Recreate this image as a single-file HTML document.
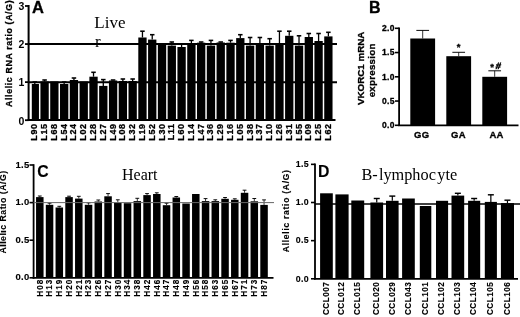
<!DOCTYPE html>
<html><head><meta charset="utf-8"><title>Figure</title>
<style>
html,body{margin:0;padding:0;background:#fff;}
body{width:520px;height:317px;overflow:hidden;}
svg{display:block;}
</style></head>
<body>
<svg width="520" height="317" viewBox="0 0 520 317" style="filter:grayscale(1)">
<rect x="0" y="0" width="520" height="317" fill="#fff"/>
<line x1="28.60" y1="5.00" x2="28.60" y2="121.00" stroke="#000" stroke-width="2"/>
<line x1="25.00" y1="5.99" x2="28.60" y2="5.99" stroke="#000" stroke-width="1.8"/>
<text x="24.40" y="10.29" font-family='"Liberation Sans", sans-serif' font-size="10.5" font-weight="bold" text-anchor="end" letter-spacing="0" stroke-width="0">3</text>
<line x1="25.00" y1="44.06" x2="28.60" y2="44.06" stroke="#000" stroke-width="1.8"/>
<text x="24.40" y="48.36" font-family='"Liberation Sans", sans-serif' font-size="10.5" font-weight="bold" text-anchor="end" letter-spacing="0" stroke-width="0">2</text>
<line x1="25.00" y1="82.13" x2="28.60" y2="82.13" stroke="#000" stroke-width="1.8"/>
<text x="24.40" y="86.43" font-family='"Liberation Sans", sans-serif' font-size="10.5" font-weight="bold" text-anchor="end" letter-spacing="0" stroke-width="0">1</text>
<line x1="25.00" y1="120.20" x2="28.60" y2="120.20" stroke="#000" stroke-width="1.8"/>
<text x="24.40" y="124.50" font-family='"Liberation Sans", sans-serif' font-size="10.5" font-weight="bold" text-anchor="end" letter-spacing="0" stroke-width="0">0</text>
<line x1="27.60" y1="120.00" x2="335.50" y2="120.00" stroke="#000" stroke-width="2"/>
<rect x="31.80" y="84.00" width="7.15" height="36.00" fill="#000"/>
<line x1="34.80" y1="84.00" x2="34.80" y2="82.00" stroke="#000" stroke-width="1.3"/>
<line x1="32.55" y1="82.00" x2="37.05" y2="82.00" stroke="#000" stroke-width="1.56"/>
<text stroke="#000" stroke-width="0.3" transform="translate(37.30,123.40) rotate(-90) scale(1.0,1)" font-family='"Liberation Sans", sans-serif' font-size="9" font-weight="bold" text-anchor="end" letter-spacing="0.6">L90</text>
<rect x="40.44" y="81.50" width="8.30" height="38.50" fill="#000"/>
<line x1="44.59" y1="81.50" x2="44.59" y2="80.00" stroke="#000" stroke-width="1.3"/>
<line x1="42.34" y1="80.00" x2="46.84" y2="80.00" stroke="#000" stroke-width="1.56"/>
<text stroke="#000" stroke-width="0.3" transform="translate(47.09,123.40) rotate(-90) scale(1.0,1)" font-family='"Liberation Sans", sans-serif' font-size="9" font-weight="bold" text-anchor="end" letter-spacing="0.6">L15</text>
<rect x="50.22" y="81.50" width="8.30" height="38.50" fill="#000"/>
<text stroke="#000" stroke-width="0.3" transform="translate(56.87,123.40) rotate(-90) scale(1.0,1)" font-family='"Liberation Sans", sans-serif' font-size="9" font-weight="bold" text-anchor="end" letter-spacing="0.6">L68</text>
<rect x="60.01" y="84.00" width="8.30" height="36.00" fill="#000"/>
<line x1="64.16" y1="84.00" x2="64.16" y2="82.00" stroke="#000" stroke-width="1.3"/>
<line x1="61.91" y1="82.00" x2="66.41" y2="82.00" stroke="#000" stroke-width="1.56"/>
<text stroke="#000" stroke-width="0.3" transform="translate(66.66,123.40) rotate(-90) scale(1.0,1)" font-family='"Liberation Sans", sans-serif' font-size="9" font-weight="bold" text-anchor="end" letter-spacing="0.6">L54</text>
<rect x="69.79" y="80.00" width="8.30" height="40.00" fill="#000"/>
<line x1="73.94" y1="80.00" x2="73.94" y2="78.00" stroke="#000" stroke-width="1.3"/>
<line x1="71.69" y1="78.00" x2="76.19" y2="78.00" stroke="#000" stroke-width="1.56"/>
<text stroke="#000" stroke-width="0.3" transform="translate(76.44,123.40) rotate(-90) scale(1.0,1)" font-family='"Liberation Sans", sans-serif' font-size="9" font-weight="bold" text-anchor="end" letter-spacing="0.6">L24</text>
<rect x="79.58" y="81.50" width="8.30" height="38.50" fill="#000"/>
<text stroke="#000" stroke-width="0.3" transform="translate(86.23,123.40) rotate(-90) scale(1.0,1)" font-family='"Liberation Sans", sans-serif' font-size="9" font-weight="bold" text-anchor="end" letter-spacing="0.6">L02</text>
<rect x="89.37" y="76.70" width="8.30" height="43.30" fill="#000"/>
<line x1="93.52" y1="76.70" x2="93.52" y2="72.30" stroke="#000" stroke-width="1.3"/>
<line x1="91.27" y1="72.30" x2="95.77" y2="72.30" stroke="#000" stroke-width="1.56"/>
<text stroke="#000" stroke-width="0.3" transform="translate(96.02,123.40) rotate(-90) scale(1.0,1)" font-family='"Liberation Sans", sans-serif' font-size="9" font-weight="bold" text-anchor="end" letter-spacing="0.6">L28</text>
<rect x="99.15" y="85.90" width="8.30" height="34.10" fill="#000"/>
<line x1="103.30" y1="85.90" x2="103.30" y2="79.60" stroke="#000" stroke-width="1.3"/>
<line x1="101.05" y1="79.60" x2="105.55" y2="79.60" stroke="#000" stroke-width="1.56"/>
<text stroke="#000" stroke-width="0.3" transform="translate(105.80,123.40) rotate(-90) scale(1.0,1)" font-family='"Liberation Sans", sans-serif' font-size="9" font-weight="bold" text-anchor="end" letter-spacing="0.6">L27</text>
<rect x="108.94" y="80.50" width="8.30" height="39.50" fill="#000"/>
<line x1="113.09" y1="80.50" x2="113.09" y2="80.00" stroke="#000" stroke-width="1.3"/>
<line x1="110.84" y1="80.00" x2="115.34" y2="80.00" stroke="#000" stroke-width="1.56"/>
<text stroke="#000" stroke-width="0.3" transform="translate(115.59,123.40) rotate(-90) scale(1.0,1)" font-family='"Liberation Sans", sans-serif' font-size="9" font-weight="bold" text-anchor="end" letter-spacing="0.6">L49</text>
<rect x="118.72" y="81.00" width="8.30" height="39.00" fill="#000"/>
<line x1="122.87" y1="81.00" x2="122.87" y2="79.00" stroke="#000" stroke-width="1.3"/>
<line x1="120.62" y1="79.00" x2="125.12" y2="79.00" stroke="#000" stroke-width="1.56"/>
<text stroke="#000" stroke-width="0.3" transform="translate(125.37,123.40) rotate(-90) scale(1.0,1)" font-family='"Liberation Sans", sans-serif' font-size="9" font-weight="bold" text-anchor="end" letter-spacing="0.6">L08</text>
<rect x="128.51" y="81.00" width="8.30" height="39.00" fill="#000"/>
<line x1="132.66" y1="81.00" x2="132.66" y2="79.00" stroke="#000" stroke-width="1.3"/>
<line x1="130.41" y1="79.00" x2="134.91" y2="79.00" stroke="#000" stroke-width="1.56"/>
<text stroke="#000" stroke-width="0.3" transform="translate(135.16,123.40) rotate(-90) scale(1.0,1)" font-family='"Liberation Sans", sans-serif' font-size="9" font-weight="bold" text-anchor="end" letter-spacing="0.6">L32</text>
<rect x="138.30" y="37.50" width="8.30" height="82.50" fill="#000"/>
<line x1="142.45" y1="37.50" x2="142.45" y2="31.20" stroke="#000" stroke-width="1.3"/>
<line x1="140.20" y1="31.20" x2="144.70" y2="31.20" stroke="#000" stroke-width="1.56"/>
<text stroke="#000" stroke-width="0.3" transform="translate(144.95,123.40) rotate(-90) scale(1.0,1)" font-family='"Liberation Sans", sans-serif' font-size="9" font-weight="bold" text-anchor="end" letter-spacing="0.6">L19</text>
<rect x="148.08" y="39.60" width="8.30" height="80.40" fill="#000"/>
<line x1="152.23" y1="39.60" x2="152.23" y2="34.70" stroke="#000" stroke-width="1.3"/>
<line x1="149.98" y1="34.70" x2="154.48" y2="34.70" stroke="#000" stroke-width="1.56"/>
<text stroke="#000" stroke-width="0.3" transform="translate(154.73,123.40) rotate(-90) scale(1.0,1)" font-family='"Liberation Sans", sans-serif' font-size="9" font-weight="bold" text-anchor="end" letter-spacing="0.6">L52</text>
<rect x="157.87" y="43.60" width="8.30" height="76.40" fill="#000"/>
<text stroke="#000" stroke-width="0.3" transform="translate(164.52,123.40) rotate(-90) scale(1.0,1)" font-family='"Liberation Sans", sans-serif' font-size="9" font-weight="bold" text-anchor="end" letter-spacing="0.6">L30</text>
<rect x="167.65" y="45.60" width="8.30" height="74.40" fill="#000"/>
<line x1="171.80" y1="45.60" x2="171.80" y2="42.00" stroke="#000" stroke-width="1.3"/>
<line x1="169.55" y1="42.00" x2="174.05" y2="42.00" stroke="#000" stroke-width="1.56"/>
<text stroke="#000" stroke-width="0.3" transform="translate(174.30,123.40) rotate(-90) scale(1.0,1)" font-family='"Liberation Sans", sans-serif' font-size="9" font-weight="bold" text-anchor="end" letter-spacing="0.6">L11</text>
<rect x="177.44" y="47.00" width="8.30" height="73.00" fill="#000"/>
<line x1="181.59" y1="47.00" x2="181.59" y2="44.00" stroke="#000" stroke-width="1.3"/>
<line x1="179.34" y1="44.00" x2="183.84" y2="44.00" stroke="#000" stroke-width="1.56"/>
<text stroke="#000" stroke-width="0.3" transform="translate(184.09,123.40) rotate(-90) scale(1.0,1)" font-family='"Liberation Sans", sans-serif' font-size="9" font-weight="bold" text-anchor="end" letter-spacing="0.6">L60</text>
<rect x="187.23" y="43.30" width="8.30" height="76.70" fill="#000"/>
<line x1="191.38" y1="43.30" x2="191.38" y2="40.40" stroke="#000" stroke-width="1.3"/>
<line x1="189.13" y1="40.40" x2="193.63" y2="40.40" stroke="#000" stroke-width="1.56"/>
<text stroke="#000" stroke-width="0.3" transform="translate(193.88,123.40) rotate(-90) scale(1.0,1)" font-family='"Liberation Sans", sans-serif' font-size="9" font-weight="bold" text-anchor="end" letter-spacing="0.6">L14</text>
<rect x="197.01" y="42.70" width="8.30" height="77.30" fill="#000"/>
<line x1="201.16" y1="42.70" x2="201.16" y2="42.00" stroke="#000" stroke-width="1.3"/>
<line x1="198.91" y1="42.00" x2="203.41" y2="42.00" stroke="#000" stroke-width="1.56"/>
<text stroke="#000" stroke-width="0.3" transform="translate(203.66,123.40) rotate(-90) scale(1.0,1)" font-family='"Liberation Sans", sans-serif' font-size="9" font-weight="bold" text-anchor="end" letter-spacing="0.6">L47</text>
<rect x="206.80" y="45.60" width="8.30" height="74.40" fill="#000"/>
<line x1="210.95" y1="45.60" x2="210.95" y2="40.40" stroke="#000" stroke-width="1.3"/>
<line x1="208.70" y1="40.40" x2="213.20" y2="40.40" stroke="#000" stroke-width="1.56"/>
<text stroke="#000" stroke-width="0.3" transform="translate(213.45,123.40) rotate(-90) scale(1.0,1)" font-family='"Liberation Sans", sans-serif' font-size="9" font-weight="bold" text-anchor="end" letter-spacing="0.6">L36</text>
<rect x="216.58" y="42.50" width="8.30" height="77.50" fill="#000"/>
<line x1="220.73" y1="42.50" x2="220.73" y2="42.00" stroke="#000" stroke-width="1.3"/>
<line x1="218.48" y1="42.00" x2="222.98" y2="42.00" stroke="#000" stroke-width="1.56"/>
<text stroke="#000" stroke-width="0.3" transform="translate(223.23,123.40) rotate(-90) scale(1.0,1)" font-family='"Liberation Sans", sans-serif' font-size="9" font-weight="bold" text-anchor="end" letter-spacing="0.6">L29</text>
<rect x="226.37" y="42.70" width="8.30" height="77.30" fill="#000"/>
<line x1="230.52" y1="42.70" x2="230.52" y2="40.40" stroke="#000" stroke-width="1.3"/>
<line x1="228.27" y1="40.40" x2="232.77" y2="40.40" stroke="#000" stroke-width="1.56"/>
<text stroke="#000" stroke-width="0.3" transform="translate(233.02,123.40) rotate(-90) scale(1.0,1)" font-family='"Liberation Sans", sans-serif' font-size="9" font-weight="bold" text-anchor="end" letter-spacing="0.6">L16</text>
<rect x="236.16" y="38.10" width="8.30" height="81.90" fill="#000"/>
<line x1="240.31" y1="38.10" x2="240.31" y2="34.70" stroke="#000" stroke-width="1.3"/>
<line x1="238.06" y1="34.70" x2="242.56" y2="34.70" stroke="#000" stroke-width="1.56"/>
<text stroke="#000" stroke-width="0.3" transform="translate(242.81,123.40) rotate(-90) scale(1.0,1)" font-family='"Liberation Sans", sans-serif' font-size="9" font-weight="bold" text-anchor="end" letter-spacing="0.6">L05</text>
<rect x="245.94" y="45.60" width="8.30" height="74.40" fill="#000"/>
<line x1="250.09" y1="45.60" x2="250.09" y2="37.50" stroke="#000" stroke-width="1.3"/>
<line x1="247.84" y1="37.50" x2="252.34" y2="37.50" stroke="#000" stroke-width="1.56"/>
<text stroke="#000" stroke-width="0.3" transform="translate(252.59,123.40) rotate(-90) scale(1.0,1)" font-family='"Liberation Sans", sans-serif' font-size="9" font-weight="bold" text-anchor="end" letter-spacing="0.6">L38</text>
<rect x="255.73" y="43.00" width="8.30" height="77.00" fill="#000"/>
<line x1="259.88" y1="43.00" x2="259.88" y2="37.50" stroke="#000" stroke-width="1.3"/>
<line x1="257.63" y1="37.50" x2="262.13" y2="37.50" stroke="#000" stroke-width="1.56"/>
<text stroke="#000" stroke-width="0.3" transform="translate(262.38,123.40) rotate(-90) scale(1.0,1)" font-family='"Liberation Sans", sans-serif' font-size="9" font-weight="bold" text-anchor="end" letter-spacing="0.6">L37</text>
<rect x="265.51" y="45.60" width="8.30" height="74.40" fill="#000"/>
<line x1="269.66" y1="45.60" x2="269.66" y2="38.70" stroke="#000" stroke-width="1.3"/>
<line x1="267.41" y1="38.70" x2="271.91" y2="38.70" stroke="#000" stroke-width="1.56"/>
<text stroke="#000" stroke-width="0.3" transform="translate(272.16,123.40) rotate(-90) scale(1.0,1)" font-family='"Liberation Sans", sans-serif' font-size="9" font-weight="bold" text-anchor="end" letter-spacing="0.6">L10</text>
<rect x="275.30" y="43.00" width="8.30" height="77.00" fill="#000"/>
<line x1="279.45" y1="43.00" x2="279.45" y2="31.20" stroke="#000" stroke-width="1.3"/>
<line x1="277.20" y1="31.20" x2="281.70" y2="31.20" stroke="#000" stroke-width="1.56"/>
<text stroke="#000" stroke-width="0.3" transform="translate(281.95,123.40) rotate(-90) scale(1.0,1)" font-family='"Liberation Sans", sans-serif' font-size="9" font-weight="bold" text-anchor="end" letter-spacing="0.6">L26</text>
<rect x="285.09" y="35.80" width="8.30" height="84.20" fill="#000"/>
<line x1="289.24" y1="35.80" x2="289.24" y2="31.20" stroke="#000" stroke-width="1.3"/>
<line x1="286.99" y1="31.20" x2="291.49" y2="31.20" stroke="#000" stroke-width="1.56"/>
<text stroke="#000" stroke-width="0.3" transform="translate(291.74,123.40) rotate(-90) scale(1.0,1)" font-family='"Liberation Sans", sans-serif' font-size="9" font-weight="bold" text-anchor="end" letter-spacing="0.6">L31</text>
<rect x="294.87" y="45.60" width="8.30" height="74.40" fill="#000"/>
<line x1="299.02" y1="45.60" x2="299.02" y2="35.80" stroke="#000" stroke-width="1.3"/>
<line x1="296.77" y1="35.80" x2="301.27" y2="35.80" stroke="#000" stroke-width="1.56"/>
<text stroke="#000" stroke-width="0.3" transform="translate(301.52,123.40) rotate(-90) scale(1.0,1)" font-family='"Liberation Sans", sans-serif' font-size="9" font-weight="bold" text-anchor="end" letter-spacing="0.6">L55</text>
<rect x="304.66" y="37.00" width="8.30" height="83.00" fill="#000"/>
<line x1="308.81" y1="37.00" x2="308.81" y2="33.50" stroke="#000" stroke-width="1.3"/>
<line x1="306.56" y1="33.50" x2="311.06" y2="33.50" stroke="#000" stroke-width="1.56"/>
<text stroke="#000" stroke-width="0.3" transform="translate(311.31,123.40) rotate(-90) scale(1.0,1)" font-family='"Liberation Sans", sans-serif' font-size="9" font-weight="bold" text-anchor="end" letter-spacing="0.6">L09</text>
<rect x="314.44" y="41.00" width="8.30" height="79.00" fill="#000"/>
<line x1="318.59" y1="41.00" x2="318.59" y2="33.50" stroke="#000" stroke-width="1.3"/>
<line x1="316.34" y1="33.50" x2="320.84" y2="33.50" stroke="#000" stroke-width="1.56"/>
<text stroke="#000" stroke-width="0.3" transform="translate(321.09,123.40) rotate(-90) scale(1.0,1)" font-family='"Liberation Sans", sans-serif' font-size="9" font-weight="bold" text-anchor="end" letter-spacing="0.6">L25</text>
<rect x="324.23" y="36.40" width="8.30" height="83.60" fill="#000"/>
<line x1="328.38" y1="36.40" x2="328.38" y2="32.30" stroke="#000" stroke-width="1.3"/>
<line x1="326.13" y1="32.30" x2="330.63" y2="32.30" stroke="#000" stroke-width="1.56"/>
<text stroke="#000" stroke-width="0.3" transform="translate(330.88,123.40) rotate(-90) scale(1.0,1)" font-family='"Liberation Sans", sans-serif' font-size="9" font-weight="bold" text-anchor="end" letter-spacing="0.6">L62</text>
<line x1="28.60" y1="82.13" x2="337.00" y2="82.13" stroke="#000" stroke-width="2"/>
<line x1="28.60" y1="44.06" x2="337.00" y2="44.06" stroke="#000" stroke-width="2"/>
<text x="32.00" y="12.90" font-family='"Liberation Sans", sans-serif' font-size="16.5" font-weight="bold" text-anchor="start" letter-spacing="0"  stroke="#000" stroke-width="0.3">A</text>
<text x="94.30" y="27.70" font-family='"Liberation Serif", serif' font-size="17" font-weight="normal" text-anchor="start" letter-spacing="0" >Live</text>
<text x="95.00" y="47.00" font-family='"Liberation Serif", serif' font-size="17" font-weight="normal" text-anchor="start" letter-spacing="0" >r</text>
<text stroke="#000" stroke-width="0.3" transform="translate(11.90,107.00) rotate(-90) scale(1.0,1)" font-family='"Liberation Sans", sans-serif' font-size="8.8" font-weight="bold" text-anchor="start" letter-spacing="0.64">Allelic RNA ratio (A/G)</text>
<line x1="399.10" y1="27.50" x2="399.10" y2="126.10" stroke="#000" stroke-width="1.8"/>
<line x1="395.00" y1="28.30" x2="399.10" y2="28.30" stroke="#000" stroke-width="1.6"/>
<text x="394.80" y="31.20" font-family='"Liberation Sans", sans-serif' font-size="8.5" font-weight="bold" text-anchor="end" letter-spacing="0.3"  stroke="#000" stroke-width="0.3">2.0</text>
<line x1="395.00" y1="52.55" x2="399.10" y2="52.55" stroke="#000" stroke-width="1.6"/>
<text x="394.80" y="55.45" font-family='"Liberation Sans", sans-serif' font-size="8.5" font-weight="bold" text-anchor="end" letter-spacing="0.3"  stroke="#000" stroke-width="0.3">1.5</text>
<line x1="395.00" y1="76.80" x2="399.10" y2="76.80" stroke="#000" stroke-width="1.6"/>
<text x="394.80" y="79.70" font-family='"Liberation Sans", sans-serif' font-size="8.5" font-weight="bold" text-anchor="end" letter-spacing="0.3"  stroke="#000" stroke-width="0.3">1.0</text>
<line x1="395.00" y1="101.05" x2="399.10" y2="101.05" stroke="#000" stroke-width="1.6"/>
<text x="394.80" y="103.95" font-family='"Liberation Sans", sans-serif' font-size="8.5" font-weight="bold" text-anchor="end" letter-spacing="0.3"  stroke="#000" stroke-width="0.3">0.5</text>
<line x1="395.00" y1="125.30" x2="399.10" y2="125.30" stroke="#000" stroke-width="1.6"/>
<text x="394.80" y="128.20" font-family='"Liberation Sans", sans-serif' font-size="8.5" font-weight="bold" text-anchor="end" letter-spacing="0.3"  stroke="#000" stroke-width="0.3">0.0</text>
<line x1="398.20" y1="125.30" x2="518.50" y2="125.30" stroke="#000" stroke-width="1.8"/>
<rect x="410.30" y="38.50" width="24.80" height="86.80" fill="#000"/>
<line x1="422.70" y1="38.50" x2="422.70" y2="30.40" stroke="#000" stroke-width="0.8"/>
<line x1="416.35" y1="30.40" x2="429.05" y2="30.40" stroke="#000" stroke-width="0.96"/>
<text x="421.70" y="138.40" font-family='"Liberation Sans", sans-serif' font-size="9.5" font-weight="bold" text-anchor="middle" letter-spacing="0.2"  stroke="#000" stroke-width="0.3">GG</text>
<rect x="446.30" y="56.20" width="24.80" height="69.10" fill="#000"/>
<line x1="458.70" y1="56.20" x2="458.70" y2="52.30" stroke="#000" stroke-width="0.8"/>
<line x1="452.35" y1="52.30" x2="465.05" y2="52.30" stroke="#000" stroke-width="0.96"/>
<text x="458.40" y="138.40" font-family='"Liberation Sans", sans-serif' font-size="9.5" font-weight="bold" text-anchor="middle" letter-spacing="0.2"  stroke="#000" stroke-width="0.3">GA</text>
<rect x="482.30" y="76.80" width="24.80" height="48.50" fill="#000"/>
<line x1="494.70" y1="76.80" x2="494.70" y2="70.80" stroke="#000" stroke-width="0.8"/>
<line x1="488.35" y1="70.80" x2="501.05" y2="70.80" stroke="#000" stroke-width="0.96"/>
<text x="496.60" y="138.40" font-family='"Liberation Sans", sans-serif' font-size="9.5" font-weight="bold" text-anchor="middle" letter-spacing="0.2"  stroke="#000" stroke-width="0.3">AA</text>
<text x="458.60" y="50.00" font-family='"Liberation Sans", sans-serif' font-size="9.5" font-weight="bold" text-anchor="middle" letter-spacing="0"  stroke="#000" stroke-width="0.3">*</text>
<text x="492.00" y="70.00" font-family='"Liberation Sans", sans-serif' font-size="9.5" font-weight="bold" text-anchor="middle" letter-spacing="0"  stroke="#000" stroke-width="0.3">*</text>
<text x="0.00" y="0.00" font-family='"Liberation Sans", sans-serif' font-size="9.2" font-weight="bold" text-anchor="start" letter-spacing="0" transform="translate(495.3,68.8) skewX(-10)" stroke="#000" stroke-width="0.5">#</text>
<text x="369.00" y="13.20" font-family='"Liberation Sans", sans-serif' font-size="16" font-weight="bold" text-anchor="start" letter-spacing="0"  stroke="#000" stroke-width="0.3">B</text>
<text stroke="#000" stroke-width="0.3" transform="translate(364.20,68.35) rotate(-90) scale(1.0,1)" font-family='"Liberation Sans", sans-serif' font-size="9.8" font-weight="bold" text-anchor="middle" letter-spacing="0.0">VKORC1 mRNA</text>
<text stroke="#000" stroke-width="0.3" transform="translate(375.10,70.35) rotate(-90) scale(1.0,1)" font-family='"Liberation Sans", sans-serif' font-size="9.8" font-weight="bold" text-anchor="middle" letter-spacing="0.22">expression</text>
<line x1="33.60" y1="164.20" x2="33.60" y2="278.60" stroke="#000" stroke-width="1.8"/>
<line x1="29.50" y1="165.00" x2="33.60" y2="165.00" stroke="#000" stroke-width="1.6"/>
<text x="29.60" y="167.50" font-family='"Liberation Sans", sans-serif' font-size="9.5" font-weight="bold" text-anchor="end" letter-spacing="0.3"  stroke="#000" stroke-width="0.12">1.5</text>
<line x1="29.50" y1="202.60" x2="33.60" y2="202.60" stroke="#000" stroke-width="1.6"/>
<text x="29.60" y="205.10" font-family='"Liberation Sans", sans-serif' font-size="9.5" font-weight="bold" text-anchor="end" letter-spacing="0.3"  stroke="#000" stroke-width="0.12">1.0</text>
<line x1="29.50" y1="240.20" x2="33.60" y2="240.20" stroke="#000" stroke-width="1.6"/>
<text x="29.60" y="242.70" font-family='"Liberation Sans", sans-serif' font-size="9.5" font-weight="bold" text-anchor="end" letter-spacing="0.3"  stroke="#000" stroke-width="0.12">0.5</text>
<line x1="29.50" y1="277.80" x2="33.60" y2="277.80" stroke="#000" stroke-width="1.6"/>
<text x="29.60" y="280.30" font-family='"Liberation Sans", sans-serif' font-size="9.5" font-weight="bold" text-anchor="end" letter-spacing="0.3"  stroke="#000" stroke-width="0.12">0.0</text>
<line x1="32.70" y1="277.80" x2="273.50" y2="277.80" stroke="#000" stroke-width="1.8"/>
<rect x="36.05" y="197.10" width="7.50" height="80.70" fill="#000"/>
<line x1="39.80" y1="197.10" x2="39.80" y2="196.00" stroke="#000" stroke-width="0.8"/>
<line x1="37.90" y1="196.00" x2="41.70" y2="196.00" stroke="#000" stroke-width="0.96"/>
<text stroke="#000" stroke-width="0.12" transform="translate(42.70,278.50) rotate(-90) scale(1.0,1)" font-family='"Liberation Sans", sans-serif' font-size="8.2" font-weight="bold" text-anchor="end" letter-spacing="1.1">H08</text>
<rect x="45.80" y="204.80" width="7.50" height="73.00" fill="#000"/>
<line x1="49.55" y1="204.80" x2="49.55" y2="203.20" stroke="#000" stroke-width="0.8"/>
<line x1="47.65" y1="203.20" x2="51.45" y2="203.20" stroke="#000" stroke-width="0.96"/>
<text stroke="#000" stroke-width="0.12" transform="translate(52.45,278.50) rotate(-90) scale(1.0,1)" font-family='"Liberation Sans", sans-serif' font-size="8.2" font-weight="bold" text-anchor="end" letter-spacing="1.1">H13</text>
<rect x="55.55" y="207.50" width="7.50" height="70.30" fill="#000"/>
<line x1="59.30" y1="207.50" x2="59.30" y2="206.30" stroke="#000" stroke-width="0.8"/>
<line x1="57.40" y1="206.30" x2="61.20" y2="206.30" stroke="#000" stroke-width="0.96"/>
<text stroke="#000" stroke-width="0.12" transform="translate(62.20,278.50) rotate(-90) scale(1.0,1)" font-family='"Liberation Sans", sans-serif' font-size="8.2" font-weight="bold" text-anchor="end" letter-spacing="1.1">H19</text>
<rect x="65.30" y="197.10" width="7.50" height="80.70" fill="#000"/>
<line x1="69.05" y1="197.10" x2="69.05" y2="196.20" stroke="#000" stroke-width="0.8"/>
<line x1="67.15" y1="196.20" x2="70.95" y2="196.20" stroke="#000" stroke-width="0.96"/>
<text stroke="#000" stroke-width="0.12" transform="translate(71.95,278.50) rotate(-90) scale(1.0,1)" font-family='"Liberation Sans", sans-serif' font-size="8.2" font-weight="bold" text-anchor="end" letter-spacing="1.1">H20</text>
<rect x="75.05" y="198.60" width="7.50" height="79.20" fill="#000"/>
<line x1="78.80" y1="198.60" x2="78.80" y2="196.30" stroke="#000" stroke-width="0.8"/>
<line x1="76.90" y1="196.30" x2="80.70" y2="196.30" stroke="#000" stroke-width="0.96"/>
<text stroke="#000" stroke-width="0.12" transform="translate(81.70,278.50) rotate(-90) scale(1.0,1)" font-family='"Liberation Sans", sans-serif' font-size="8.2" font-weight="bold" text-anchor="end" letter-spacing="1.1">H21</text>
<rect x="84.80" y="204.80" width="7.50" height="73.00" fill="#000"/>
<line x1="88.55" y1="204.80" x2="88.55" y2="202.90" stroke="#000" stroke-width="0.8"/>
<line x1="86.65" y1="202.90" x2="90.45" y2="202.90" stroke="#000" stroke-width="0.96"/>
<text stroke="#000" stroke-width="0.12" transform="translate(91.45,278.50) rotate(-90) scale(1.0,1)" font-family='"Liberation Sans", sans-serif' font-size="8.2" font-weight="bold" text-anchor="end" letter-spacing="1.1">H23</text>
<rect x="94.55" y="201.50" width="7.50" height="76.30" fill="#000"/>
<line x1="98.30" y1="201.50" x2="98.30" y2="200.00" stroke="#000" stroke-width="0.8"/>
<line x1="96.40" y1="200.00" x2="100.20" y2="200.00" stroke="#000" stroke-width="0.96"/>
<text stroke="#000" stroke-width="0.12" transform="translate(101.20,278.50) rotate(-90) scale(1.0,1)" font-family='"Liberation Sans", sans-serif' font-size="8.2" font-weight="bold" text-anchor="end" letter-spacing="1.1">H26</text>
<rect x="104.30" y="196.30" width="7.50" height="81.50" fill="#000"/>
<line x1="108.05" y1="196.30" x2="108.05" y2="193.60" stroke="#000" stroke-width="0.8"/>
<line x1="106.15" y1="193.60" x2="109.95" y2="193.60" stroke="#000" stroke-width="0.96"/>
<text stroke="#000" stroke-width="0.12" transform="translate(110.95,278.50) rotate(-90) scale(1.0,1)" font-family='"Liberation Sans", sans-serif' font-size="8.2" font-weight="bold" text-anchor="end" letter-spacing="1.1">H27</text>
<rect x="114.05" y="202.90" width="7.50" height="74.90" fill="#000"/>
<line x1="117.80" y1="202.90" x2="117.80" y2="199.80" stroke="#000" stroke-width="0.8"/>
<line x1="115.90" y1="199.80" x2="119.70" y2="199.80" stroke="#000" stroke-width="0.96"/>
<text stroke="#000" stroke-width="0.12" transform="translate(120.70,278.50) rotate(-90) scale(1.0,1)" font-family='"Liberation Sans", sans-serif' font-size="8.2" font-weight="bold" text-anchor="end" letter-spacing="1.1">H30</text>
<rect x="123.80" y="203.20" width="7.50" height="74.60" fill="#000"/>
<text stroke="#000" stroke-width="0.12" transform="translate(130.45,278.50) rotate(-90) scale(1.0,1)" font-family='"Liberation Sans", sans-serif' font-size="8.2" font-weight="bold" text-anchor="end" letter-spacing="1.1">H34</text>
<rect x="133.55" y="201.10" width="7.50" height="76.70" fill="#000"/>
<line x1="137.30" y1="201.10" x2="137.30" y2="198.30" stroke="#000" stroke-width="0.8"/>
<line x1="135.40" y1="198.30" x2="139.20" y2="198.30" stroke="#000" stroke-width="0.96"/>
<text stroke="#000" stroke-width="0.12" transform="translate(140.20,278.50) rotate(-90) scale(1.0,1)" font-family='"Liberation Sans", sans-serif' font-size="8.2" font-weight="bold" text-anchor="end" letter-spacing="1.1">H38</text>
<rect x="143.30" y="195.10" width="7.50" height="82.70" fill="#000"/>
<line x1="147.05" y1="195.10" x2="147.05" y2="193.60" stroke="#000" stroke-width="0.8"/>
<line x1="145.15" y1="193.60" x2="148.95" y2="193.60" stroke="#000" stroke-width="0.96"/>
<text stroke="#000" stroke-width="0.12" transform="translate(149.95,278.50) rotate(-90) scale(1.0,1)" font-family='"Liberation Sans", sans-serif' font-size="8.2" font-weight="bold" text-anchor="end" letter-spacing="1.1">H42</text>
<rect x="153.05" y="194.00" width="7.50" height="83.80" fill="#000"/>
<line x1="156.80" y1="194.00" x2="156.80" y2="192.80" stroke="#000" stroke-width="0.8"/>
<line x1="154.90" y1="192.80" x2="158.70" y2="192.80" stroke="#000" stroke-width="0.96"/>
<text stroke="#000" stroke-width="0.12" transform="translate(159.70,278.50) rotate(-90) scale(1.0,1)" font-family='"Liberation Sans", sans-serif' font-size="8.2" font-weight="bold" text-anchor="end" letter-spacing="1.1">H46</text>
<rect x="162.80" y="205.20" width="7.50" height="72.60" fill="#000"/>
<line x1="166.55" y1="205.20" x2="166.55" y2="203.20" stroke="#000" stroke-width="0.8"/>
<line x1="164.65" y1="203.20" x2="168.45" y2="203.20" stroke="#000" stroke-width="0.96"/>
<text stroke="#000" stroke-width="0.12" transform="translate(169.45,278.50) rotate(-90) scale(1.0,1)" font-family='"Liberation Sans", sans-serif' font-size="8.2" font-weight="bold" text-anchor="end" letter-spacing="1.1">H47</text>
<rect x="172.55" y="197.50" width="7.50" height="80.30" fill="#000"/>
<line x1="176.30" y1="197.50" x2="176.30" y2="196.50" stroke="#000" stroke-width="0.8"/>
<line x1="174.40" y1="196.50" x2="178.20" y2="196.50" stroke="#000" stroke-width="0.96"/>
<text stroke="#000" stroke-width="0.12" transform="translate(179.20,278.50) rotate(-90) scale(1.0,1)" font-family='"Liberation Sans", sans-serif' font-size="8.2" font-weight="bold" text-anchor="end" letter-spacing="1.1">H48</text>
<rect x="182.30" y="203.50" width="7.50" height="74.30" fill="#000"/>
<text stroke="#000" stroke-width="0.12" transform="translate(188.95,278.50) rotate(-90) scale(1.0,1)" font-family='"Liberation Sans", sans-serif' font-size="8.2" font-weight="bold" text-anchor="end" letter-spacing="1.1">H49</text>
<rect x="192.05" y="194.00" width="7.50" height="83.80" fill="#000"/>
<text stroke="#000" stroke-width="0.12" transform="translate(198.70,278.50) rotate(-90) scale(1.0,1)" font-family='"Liberation Sans", sans-serif' font-size="8.2" font-weight="bold" text-anchor="end" letter-spacing="1.1">H56</text>
<rect x="201.80" y="201.10" width="7.50" height="76.70" fill="#000"/>
<line x1="205.55" y1="201.10" x2="205.55" y2="198.60" stroke="#000" stroke-width="0.8"/>
<line x1="203.65" y1="198.60" x2="207.45" y2="198.60" stroke="#000" stroke-width="0.96"/>
<text stroke="#000" stroke-width="0.12" transform="translate(208.45,278.50) rotate(-90) scale(1.0,1)" font-family='"Liberation Sans", sans-serif' font-size="8.2" font-weight="bold" text-anchor="end" letter-spacing="1.1">H58</text>
<rect x="211.55" y="201.10" width="7.50" height="76.70" fill="#000"/>
<line x1="215.30" y1="201.10" x2="215.30" y2="199.80" stroke="#000" stroke-width="0.8"/>
<line x1="213.40" y1="199.80" x2="217.20" y2="199.80" stroke="#000" stroke-width="0.96"/>
<text stroke="#000" stroke-width="0.12" transform="translate(218.20,278.50) rotate(-90) scale(1.0,1)" font-family='"Liberation Sans", sans-serif' font-size="8.2" font-weight="bold" text-anchor="end" letter-spacing="1.1">H63</text>
<rect x="221.30" y="198.80" width="7.50" height="79.00" fill="#000"/>
<line x1="225.05" y1="198.80" x2="225.05" y2="197.50" stroke="#000" stroke-width="0.8"/>
<line x1="223.15" y1="197.50" x2="226.95" y2="197.50" stroke="#000" stroke-width="0.96"/>
<text stroke="#000" stroke-width="0.12" transform="translate(227.95,278.50) rotate(-90) scale(1.0,1)" font-family='"Liberation Sans", sans-serif' font-size="8.2" font-weight="bold" text-anchor="end" letter-spacing="1.1">H65</text>
<rect x="231.05" y="199.80" width="7.50" height="78.00" fill="#000"/>
<line x1="234.80" y1="199.80" x2="234.80" y2="198.80" stroke="#000" stroke-width="0.8"/>
<line x1="232.90" y1="198.80" x2="236.70" y2="198.80" stroke="#000" stroke-width="0.96"/>
<text stroke="#000" stroke-width="0.12" transform="translate(237.70,278.50) rotate(-90) scale(1.0,1)" font-family='"Liberation Sans", sans-serif' font-size="8.2" font-weight="bold" text-anchor="end" letter-spacing="1.1">H67</text>
<rect x="240.80" y="192.80" width="7.50" height="85.00" fill="#000"/>
<line x1="244.55" y1="192.80" x2="244.55" y2="190.20" stroke="#000" stroke-width="0.8"/>
<line x1="242.65" y1="190.20" x2="246.45" y2="190.20" stroke="#000" stroke-width="0.96"/>
<text stroke="#000" stroke-width="0.12" transform="translate(247.45,278.50) rotate(-90) scale(1.0,1)" font-family='"Liberation Sans", sans-serif' font-size="8.2" font-weight="bold" text-anchor="end" letter-spacing="1.1">H71</text>
<rect x="250.55" y="201.30" width="7.50" height="76.50" fill="#000"/>
<line x1="254.30" y1="201.30" x2="254.30" y2="198.50" stroke="#000" stroke-width="0.8"/>
<line x1="252.40" y1="198.50" x2="256.20" y2="198.50" stroke="#000" stroke-width="0.96"/>
<text stroke="#000" stroke-width="0.12" transform="translate(257.20,278.50) rotate(-90) scale(1.0,1)" font-family='"Liberation Sans", sans-serif' font-size="8.2" font-weight="bold" text-anchor="end" letter-spacing="1.1">H73</text>
<rect x="260.30" y="204.90" width="7.50" height="72.90" fill="#000"/>
<line x1="264.05" y1="204.90" x2="264.05" y2="199.90" stroke="#000" stroke-width="0.8"/>
<line x1="262.15" y1="199.90" x2="265.95" y2="199.90" stroke="#000" stroke-width="0.96"/>
<text stroke="#000" stroke-width="0.12" transform="translate(266.95,278.50) rotate(-90) scale(1.0,1)" font-family='"Liberation Sans", sans-serif' font-size="8.2" font-weight="bold" text-anchor="end" letter-spacing="1.1">H87</text>
<line x1="33.60" y1="202.60" x2="274.00" y2="202.60" stroke="#666" stroke-width="1.0"/>
<text x="0.00" y="0.00" font-family='"Liberation Sans", sans-serif' font-size="17.2" font-weight="bold" text-anchor="start" letter-spacing="0" transform="translate(37.3,176.8) scale(0.92,1)" stroke="#000" stroke-width="0.12">C</text>
<text x="122.00" y="179.60" font-family='"Liberation Serif", serif' font-size="16" font-weight="normal" text-anchor="start" letter-spacing="0" >Heart</text>
<text stroke="#000" stroke-width="0.12" transform="translate(6.20,253.60) rotate(-90) scale(1.0,1)" font-family='"Liberation Sans", sans-serif' font-size="8.8" font-weight="bold" text-anchor="start" letter-spacing="0.47">Allelic Ratio (A/G)</text>
<line x1="315.00" y1="163.55" x2="315.00" y2="279.60" stroke="#000" stroke-width="1.8"/>
<line x1="311.00" y1="164.35" x2="315.00" y2="164.35" stroke="#000" stroke-width="1.6"/>
<text x="308.90" y="167.15" font-family='"Liberation Sans", sans-serif' font-size="8.8" font-weight="bold" text-anchor="end" letter-spacing="0.3"  stroke="#000" stroke-width="0.12">1.5</text>
<line x1="311.00" y1="202.50" x2="315.00" y2="202.50" stroke="#000" stroke-width="1.6"/>
<text x="308.90" y="205.30" font-family='"Liberation Sans", sans-serif' font-size="8.8" font-weight="bold" text-anchor="end" letter-spacing="0.3"  stroke="#000" stroke-width="0.12">1.0</text>
<line x1="311.00" y1="240.65" x2="315.00" y2="240.65" stroke="#000" stroke-width="1.6"/>
<text x="308.90" y="243.45" font-family='"Liberation Sans", sans-serif' font-size="8.8" font-weight="bold" text-anchor="end" letter-spacing="0.3"  stroke="#000" stroke-width="0.12">0.5</text>
<line x1="311.00" y1="278.80" x2="315.00" y2="278.80" stroke="#000" stroke-width="1.6"/>
<text x="308.90" y="281.60" font-family='"Liberation Sans", sans-serif' font-size="8.8" font-weight="bold" text-anchor="end" letter-spacing="0.3"  stroke="#000" stroke-width="0.12">0.0</text>
<line x1="314.10" y1="278.80" x2="518.00" y2="278.80" stroke="#000" stroke-width="1.8"/>
<rect x="320.10" y="193.30" width="12.70" height="85.50" fill="#000"/>
<text stroke="#000" stroke-width="0.12" transform="translate(328.65,281.60) rotate(-90) scale(1.0,1)" font-family='"Liberation Sans", sans-serif' font-size="8.2" font-weight="bold" text-anchor="end" letter-spacing="0.5">CCL007</text>
<rect x="335.40" y="194.40" width="13.20" height="84.40" fill="#000"/>
<text stroke="#000" stroke-width="0.12" transform="translate(344.20,281.60) rotate(-90) scale(1.0,1)" font-family='"Liberation Sans", sans-serif' font-size="8.2" font-weight="bold" text-anchor="end" letter-spacing="0.5">CCL012</text>
<rect x="351.30" y="200.50" width="12.90" height="78.30" fill="#000"/>
<text stroke="#000" stroke-width="0.12" transform="translate(359.95,281.60) rotate(-90) scale(1.0,1)" font-family='"Liberation Sans", sans-serif' font-size="8.2" font-weight="bold" text-anchor="end" letter-spacing="0.5">CCL015</text>
<rect x="370.40" y="202.50" width="12.70" height="76.30" fill="#000"/>
<line x1="376.75" y1="202.50" x2="376.75" y2="198.50" stroke="#000" stroke-width="1.2"/>
<line x1="373.75" y1="198.50" x2="379.75" y2="198.50" stroke="#000" stroke-width="1.44"/>
<text stroke="#000" stroke-width="0.12" transform="translate(378.95,281.60) rotate(-90) scale(1.0,1)" font-family='"Liberation Sans", sans-serif' font-size="8.2" font-weight="bold" text-anchor="end" letter-spacing="0.5">CCL020</text>
<rect x="386.00" y="200.80" width="12.60" height="78.00" fill="#000"/>
<line x1="392.30" y1="200.80" x2="392.30" y2="196.10" stroke="#000" stroke-width="1.2"/>
<line x1="389.30" y1="196.10" x2="395.30" y2="196.10" stroke="#000" stroke-width="1.44"/>
<text stroke="#000" stroke-width="0.12" transform="translate(394.50,281.60) rotate(-90) scale(1.0,1)" font-family='"Liberation Sans", sans-serif' font-size="8.2" font-weight="bold" text-anchor="end" letter-spacing="0.5">CCL029</text>
<rect x="402.10" y="198.50" width="12.70" height="80.30" fill="#000"/>
<text stroke="#000" stroke-width="0.12" transform="translate(410.65,281.60) rotate(-90) scale(1.0,1)" font-family='"Liberation Sans", sans-serif' font-size="8.2" font-weight="bold" text-anchor="end" letter-spacing="0.5">CCL043</text>
<rect x="419.80" y="206.00" width="11.50" height="72.80" fill="#000"/>
<text stroke="#000" stroke-width="0.12" transform="translate(427.75,281.60) rotate(-90) scale(1.0,1)" font-family='"Liberation Sans", sans-serif' font-size="8.2" font-weight="bold" text-anchor="end" letter-spacing="0.5">CCL101</text>
<rect x="436.00" y="200.80" width="12.10" height="78.00" fill="#000"/>
<text stroke="#000" stroke-width="0.12" transform="translate(444.25,281.60) rotate(-90) scale(1.0,1)" font-family='"Liberation Sans", sans-serif' font-size="8.2" font-weight="bold" text-anchor="end" letter-spacing="0.5">CCL102</text>
<rect x="451.50" y="195.60" width="12.70" height="83.20" fill="#000"/>
<line x1="457.85" y1="195.60" x2="457.85" y2="193.30" stroke="#000" stroke-width="1.2"/>
<line x1="454.85" y1="193.30" x2="460.85" y2="193.30" stroke="#000" stroke-width="1.44"/>
<text stroke="#000" stroke-width="0.12" transform="translate(460.05,281.60) rotate(-90) scale(1.0,1)" font-family='"Liberation Sans", sans-serif' font-size="8.2" font-weight="bold" text-anchor="end" letter-spacing="0.5">CCL103</text>
<rect x="468.10" y="200.80" width="12.10" height="78.00" fill="#000"/>
<line x1="474.15" y1="200.80" x2="474.15" y2="198.50" stroke="#000" stroke-width="1.2"/>
<line x1="471.15" y1="198.50" x2="477.15" y2="198.50" stroke="#000" stroke-width="1.44"/>
<text stroke="#000" stroke-width="0.12" transform="translate(476.35,281.60) rotate(-90) scale(1.0,1)" font-family='"Liberation Sans", sans-serif' font-size="8.2" font-weight="bold" text-anchor="end" letter-spacing="0.5">CCL104</text>
<rect x="484.80" y="201.90" width="12.10" height="76.90" fill="#000"/>
<line x1="490.85" y1="201.90" x2="490.85" y2="194.80" stroke="#000" stroke-width="1.2"/>
<line x1="487.85" y1="194.80" x2="493.85" y2="194.80" stroke="#000" stroke-width="1.44"/>
<text stroke="#000" stroke-width="0.12" transform="translate(493.05,281.60) rotate(-90) scale(1.0,1)" font-family='"Liberation Sans", sans-serif' font-size="8.2" font-weight="bold" text-anchor="end" letter-spacing="0.5">CCL105</text>
<rect x="500.90" y="203.10" width="13.10" height="75.70" fill="#000"/>
<line x1="507.45" y1="203.10" x2="507.45" y2="200.20" stroke="#000" stroke-width="1.2"/>
<line x1="504.45" y1="200.20" x2="510.45" y2="200.20" stroke="#000" stroke-width="1.44"/>
<text stroke="#000" stroke-width="0.12" transform="translate(509.65,281.60) rotate(-90) scale(1.0,1)" font-family='"Liberation Sans", sans-serif' font-size="8.2" font-weight="bold" text-anchor="end" letter-spacing="0.5">CCL106</text>
<line x1="315.00" y1="203.90" x2="520.00" y2="203.90" stroke="#000" stroke-width="1.5"/>
<text x="0.00" y="0.00" font-family='"Liberation Sans", sans-serif' font-size="17.2" font-weight="bold" text-anchor="start" letter-spacing="0" transform="translate(317.9,176.6) scale(0.92,1)" stroke="#000" stroke-width="0.12">D</text>
<text x="361.50" y="180.00" font-family='"Liberation Serif", serif' font-size="16.3" font-weight="normal" text-anchor="start" letter-spacing="0" >B-<tspan dx="1.1">lymphoc</tspan><tspan dx="1.4">yte</tspan></text>
<text stroke="#000" stroke-width="0.12" transform="translate(288.80,252.20) rotate(-90) scale(1.0,1)" font-family='"Liberation Sans", sans-serif' font-size="8.5" font-weight="bold" text-anchor="start" letter-spacing="0.73">Allelic ratio (A/G)</text>
</svg>
</body></html>
